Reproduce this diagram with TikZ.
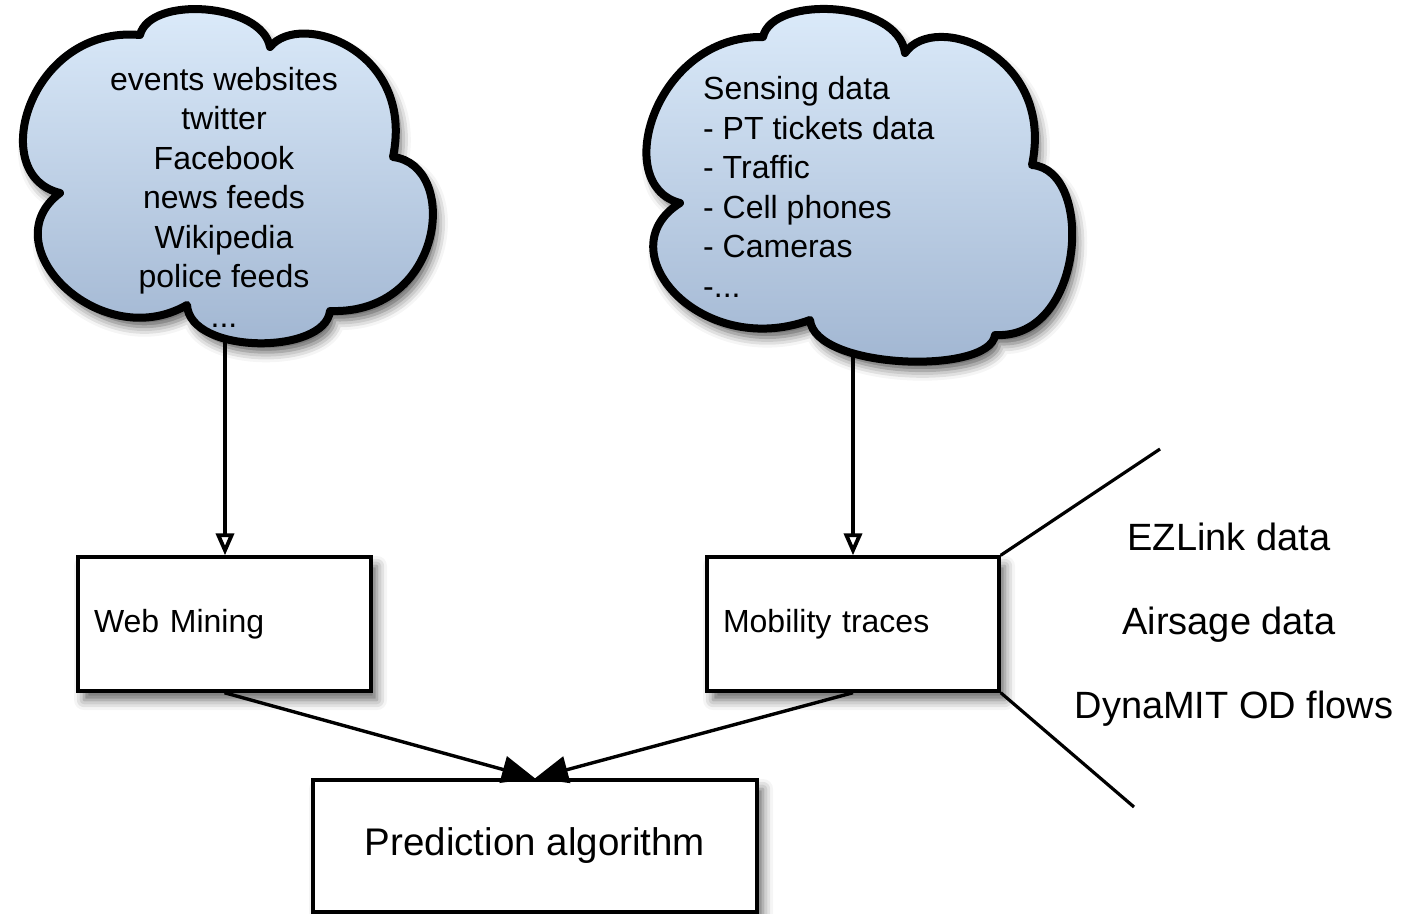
\documentclass[tikz,border=0pt]{standalone}
\usepackage{fontspec}
\setmainfont{Liberation Sans}
\usetikzlibrary{arrows.meta,shadows.blur}
\definecolor{cloudtop}{RGB}{221,236,251}
\definecolor{cloudbot}{RGB}{160,181,209}
\begin{document}
\begin{tikzpicture}[x=1pt,y=-1pt,
  cloudshape/.style={draw=black, line width=8pt, line join=round,
    top color=cloudtop, bottom color=cloudbot,
    blur shadow={shadow xshift=5pt, shadow yshift=-9pt, shadow blur radius=10pt, shadow opacity=65}},
  boxnode/.style={draw=black, line width=3.4pt, fill=white, minimum height=134pt,
    blur shadow={shadow xshift=6pt, shadow yshift=-9pt, shadow blur radius=10pt, shadow opacity=60}},
  cloudtext/.style={inner sep=0pt, font=\fontsize{32}{39.5}\selectfont},
  boxtext/.style={font=\fontsize{32}{39.5}\selectfont},
  lbl/.style={inner sep=0pt, font=\fontsize{38}{46}\selectfont},
  openarrow/.style={line width=4.6pt, -{Triangle[open, length=22pt, width=18pt, line width=3.8pt]}},
  filledarrow/.style={line width=3.4pt, -{Triangle[length=33pt, width=27pt, fill=black]}},
  plainline/.style={line width=3.2pt}
]
\useasboundingbox (0,0) rectangle (1412,913);

% left cloud
\path[cloudshape] (60,193) .. controls (-15,175) and (30,25) .. (140,35)
  .. controls (150,-5) and (262,3) .. (270,47)
  .. controls (300,10) and (415,50) .. (393,157)
  .. controls (460,165) and (445,315) .. (330,311)
  .. controls (325,355) and (190,355) .. (187,305)
  .. controls (100,355) and (-10,245) .. (60,193) -- cycle;
\node[cloudtext, align=center] (lctext) at (224,197)
  {events websites\\twitter\\Facebook\\news feeds\\Wikipedia\\police feeds\\...};

% right cloud
\path[cloudshape] (680,203) .. controls (610,185) and (655,35) .. (763,37)
  .. controls (772,-5) and (898,0) .. (905,53)
  .. controls (935,10) and (1055,55) .. (1032,165)
  .. controls (1095,170) and (1085,340) .. (995,335)
  .. controls (990,375) and (815,370) .. (810,320)
  .. controls (700,360) and (605,250) .. (680,203) -- cycle;
\node[cloudtext, align=left, anchor=west] (rctext) at (703,187)
  {Sensing data\\- PT tickets data\\- Traffic\\- Cell phones\\- Cameras\\-...};

\coordinate (lcb) at (225,342);
\coordinate (rcb) at (853,356);

% boxes
\node[boxnode, boxtext, minimum width=293pt, text width=261pt, inner xsep=16pt, align=left] (web) at (224.5,624) {Web Mining};
\node[boxnode, boxtext, minimum width=292pt, text width=260pt, inner xsep=16pt, align=left] (mob) at (853,624) {Mobility traces};
\node[boxnode, minimum width=444pt, minimum height=132pt, font=\fontsize{38.5}{46}\selectfont] (pred) at (535,846) {Prediction algorithm};

% connectors
\draw[openarrow] (lcb) -- (lcb |- web.north);
\draw[openarrow] (rcb) -- (mob.north);
\draw[filledarrow] (web.south) -- (pred.north);
\draw[filledarrow] (mob.south) -- (pred.north);

% data sources on the right
\coordinate (ezend) at (1160,449);
\coordinate (dynend) at (1134,807);
\draw[plainline] (mob.north east) -- (ezend);
\draw[plainline] (mob.south east) -- (dynend);
\node[lbl, anchor=base] (ez) at (1229,550) {EZLink data};
\node[lbl, anchor=base] (air) at (1229,634) {Airsage data};
\node[lbl, anchor=base] (dyn) at (1234,718) {DynaMIT OD flows};
\end{tikzpicture}
\end{document}
